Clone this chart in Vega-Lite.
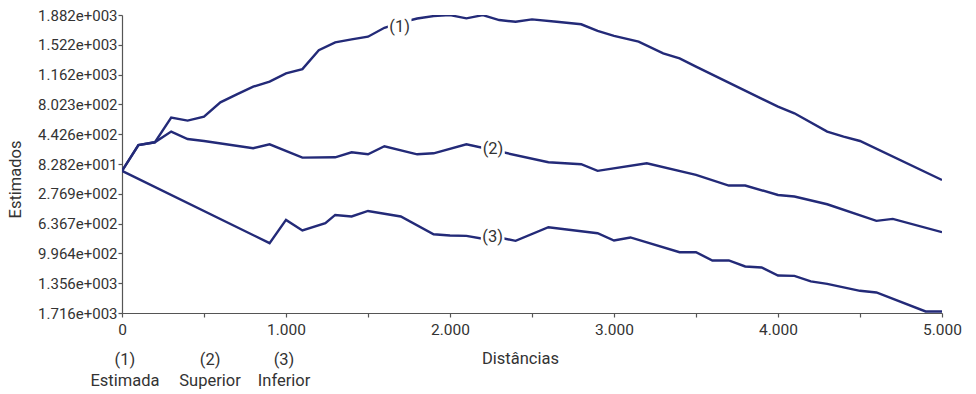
{
  "$schema": "https://vega.github.io/schema/vega-lite/v6.json",
  "width": 820,
  "height": 298,
  "autosize": "none",
  "padding": {"left": 122, "top": 15, "right": 34, "bottom": 81},
  "background": "white",
  "config": {
    "view": {"stroke": null},
    "font": "Roboto",
    "axis": {"domainColor": "#555", "tickColor": "#555", "labelColor": "#333", "titleColor": "#333", "labelFont": "Roboto", "titleFont": "Roboto", "labelFontSize": 15, "titleFontSize": 16.5, "titleFontWeight": "normal", "grid": false, "domainWidth": 1.2, "tickWidth": 1.2, "labelOverlap": false, "labelFlush": false}
  },
  "resolve": {"axis": {"x": "independent", "y": "independent"}},
  "datasets": {
    "lines": [
      {"serie": "1", "x": 0, "y": 0}, {"serie": "1", "x": 100, "y": 312}, {"serie": "1", "x": 200, "y": 345}, {"serie": "1", "x": 300, "y": 643}, {"serie": "1", "x": 400, "y": 607}, {"serie": "1", "x": 500, "y": 655}, {"serie": "1", "x": 600, "y": 827}, {"serie": "1", "x": 700, "y": 924}, {"serie": "1", "x": 800, "y": 1017}, {"serie": "1", "x": 900, "y": 1077}, {"serie": "1", "x": 1000, "y": 1177}, {"serie": "1", "x": 1100, "y": 1229}, {"serie": "1", "x": 1200, "y": 1458}, {"serie": "1", "x": 1300, "y": 1551}, {"serie": "1", "x": 1400, "y": 1587}, {"serie": "1", "x": 1500, "y": 1620}, {"serie": "1", "x": 1600, "y": 1728}, {"serie": "1", "x": 1700, "y": 1790}, {"serie": "1", "x": 1800, "y": 1840}, {"serie": "1", "x": 1900, "y": 1869}, {"serie": "1", "x": 2000, "y": 1880}, {"serie": "1", "x": 2100, "y": 1841}, {"serie": "1", "x": 2200, "y": 1880}, {"serie": "1", "x": 2300, "y": 1821}, {"serie": "1", "x": 2400, "y": 1800}, {"serie": "1", "x": 2500, "y": 1829}, {"serie": "1", "x": 2650, "y": 1800}, {"serie": "1", "x": 2800, "y": 1770}, {"serie": "1", "x": 2900, "y": 1690}, {"serie": "1", "x": 3000, "y": 1630}, {"serie": "1", "x": 3150, "y": 1560}, {"serie": "1", "x": 3300, "y": 1418}, {"serie": "1", "x": 3400, "y": 1358}, {"serie": "1", "x": 3500, "y": 1258}, {"serie": "1", "x": 4000, "y": 775}, {"serie": "1", "x": 4100, "y": 695}, {"serie": "1", "x": 4300, "y": 474}, {"serie": "1", "x": 4400, "y": 414}, {"serie": "1", "x": 4500, "y": 361}, {"serie": "1", "x": 5000, "y": -110},
      {"serie": "2", "x": 0, "y": 0}, {"serie": "2", "x": 100, "y": 312}, {"serie": "2", "x": 200, "y": 345}, {"serie": "2", "x": 300, "y": 474}, {"serie": "2", "x": 400, "y": 385}, {"serie": "2", "x": 500, "y": 361}, {"serie": "2", "x": 800, "y": 273}, {"serie": "2", "x": 900, "y": 321}, {"serie": "2", "x": 1100, "y": 160}, {"serie": "2", "x": 1300, "y": 164}, {"serie": "2", "x": 1400, "y": 224}, {"serie": "2", "x": 1500, "y": 200}, {"serie": "2", "x": 1600, "y": 297}, {"serie": "2", "x": 1800, "y": 200}, {"serie": "2", "x": 1900, "y": 212}, {"serie": "2", "x": 2100, "y": 321}, {"serie": "2", "x": 2600, "y": 104}, {"serie": "2", "x": 2800, "y": 80}, {"serie": "2", "x": 2900, "y": 0}, {"serie": "2", "x": 3200, "y": 92}, {"serie": "2", "x": 3500, "y": -49}, {"serie": "2", "x": 3700, "y": -177}, {"serie": "2", "x": 3800, "y": -177}, {"serie": "2", "x": 4000, "y": -291}, {"serie": "2", "x": 4100, "y": -310}, {"serie": "2", "x": 4300, "y": -403}, {"serie": "2", "x": 4600, "y": -604}, {"serie": "2", "x": 4700, "y": -580}, {"serie": "2", "x": 5000, "y": -740},
      {"serie": "3", "x": 0, "y": 0}, {"serie": "3", "x": 900, "y": -873}, {"serie": "3", "x": 1000, "y": -592}, {"serie": "3", "x": 1100, "y": -720}, {"serie": "3", "x": 1240, "y": -632}, {"serie": "3", "x": 1300, "y": -532}, {"serie": "3", "x": 1400, "y": -551}, {"serie": "3", "x": 1500, "y": -484}, {"serie": "3", "x": 1700, "y": -551}, {"serie": "3", "x": 1900, "y": -765}, {"serie": "3", "x": 2000, "y": -780}, {"serie": "3", "x": 2100, "y": -785}, {"serie": "3", "x": 2200, "y": -820}, {"serie": "3", "x": 2300, "y": -805}, {"serie": "3", "x": 2400, "y": -845}, {"serie": "3", "x": 2600, "y": -680}, {"serie": "3", "x": 2900, "y": -753}, {"serie": "3", "x": 3000, "y": -841}, {"serie": "3", "x": 3100, "y": -804}, {"serie": "3", "x": 3400, "y": -982}, {"serie": "3", "x": 3500, "y": -982}, {"serie": "3", "x": 3600, "y": -1082}, {"serie": "3", "x": 3700, "y": -1082}, {"serie": "3", "x": 3800, "y": -1154}, {"serie": "3", "x": 3900, "y": -1166}, {"serie": "3", "x": 4000, "y": -1263}, {"serie": "3", "x": 4100, "y": -1268}, {"serie": "3", "x": 4200, "y": -1335}, {"serie": "3", "x": 4300, "y": -1364}, {"serie": "3", "x": 4500, "y": -1448}, {"serie": "3", "x": 4600, "y": -1468}, {"serie": "3", "x": 4900, "y": -1697}, {"serie": "3", "x": 5000, "y": -1697}
    ],
    "labels": [
      {"label": "(1)", "x": 1693, "y": 1740},
      {"label": "(2)", "x": 2262, "y": 264},
      {"label": "(3)", "x": 2260, "y": -804}
    ],
    "legend": [
      {"num": "(1)", "name": "Estimada", "x": 18},
      {"num": "(2)", "name": "Superior", "x": 537},
      {"num": "(3)", "name": "Inferior", "x": 988}
    ]
  },
  "layer": [
    {
      "data": {"name": "lines"},
      "mark": {"type": "line", "color": "#232a78", "strokeWidth": 2.4, "clip": true},
      "encoding": {
        "x": {"field": "x", "type": "quantitative",
          "scale": {"domain": [0, 5000], "nice": false, "zero": false},
          "axis": {"title": "Distâncias", "values": [0, 500, 1000, 1500, 2000, 2500, 3000, 3500, 4000, 4500, 5000],
            "labelExpr": "datum.value % 1000 == 0 ? replace(format(datum.value, ','), ',', '.') : ''",
            "tickSize": 4, "labelPadding": 5, "labelFontSize": 15.5, "titleX": 398, "titleY": 45, "titleBaseline": "middle", "labelOverlap": false}},
        "y": {"field": "y", "type": "quantitative",
          "scale": {"domain": [-1716, 1882], "nice": false, "zero": false},
          "axis": {"title": "Estimados", "values": [-1716, -1356, -996.4, -636.7, -276.9, 82.82, 442.6, 802.3, 1162, 1522, 1882],
            "labelExpr": "replace(format(abs(datum.value), '.3e'), 'e+', 'e+00')",
            "tickSize": 4, "labelPadding": 1, "titleX": -107, "titleY": 164, "titleAngle": 270, "titleBaseline": "middle", "labelOverlap": false}},
        "detail": {"field": "serie"}
      }
    },
    {
      "data": {"name": "labels"},
      "mark": {"type": "point", "shape": "square", "filled": true, "color": "white", "opacity": 1, "size": 560},
      "encoding": {
        "x": {"field": "x", "type": "quantitative", "axis": null},
        "y": {"field": "y", "type": "quantitative", "axis": null}
      }
    },
    {
      "data": {"name": "labels"},
      "mark": {"type": "text", "fontSize": 16.5, "color": "#333", "font": "Roboto"},
      "encoding": {
        "x": {"field": "x", "type": "quantitative", "axis": null},
        "y": {"field": "y", "type": "quantitative", "axis": null},
        "text": {"field": "label"}
      }
    },
    {
      "data": {"name": "legend"},
      "mark": {"type": "text", "fontSize": 16.5, "color": "#333", "font": "Roboto", "dy": 47},
      "encoding": {
        "x": {"field": "x", "type": "quantitative", "axis": null},
        "y": {"datum": -1716, "axis": null},
        "text": {"field": "num"}
      }
    },
    {
      "data": {"name": "legend"},
      "mark": {"type": "text", "fontSize": 16.5, "color": "#333", "font": "Roboto", "dy": 68},
      "encoding": {
        "x": {"field": "x", "type": "quantitative", "axis": null},
        "y": {"datum": -1716, "axis": null},
        "text": {"field": "name"}
      }
    }
  ]
}
